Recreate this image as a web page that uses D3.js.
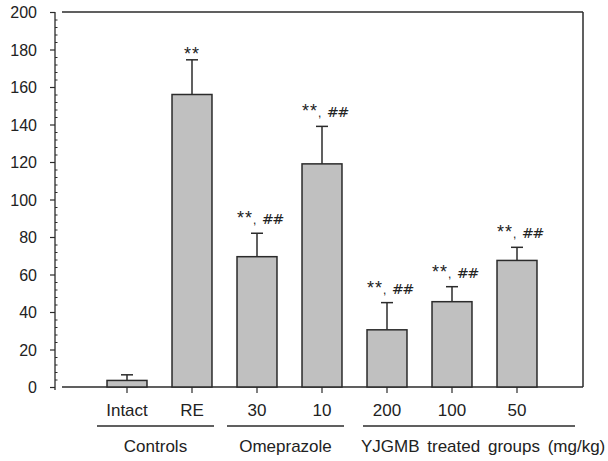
<!DOCTYPE html>
<html>
<head>
<meta charset="utf-8">
<script src="https://cdn.jsdelivr.net/npm/d3@7"></script>
<style>
  html, body { margin: 0; padding: 0; background: #fff; }
  svg { display: block; font-family: "Liberation Sans", Arial, sans-serif; }
</style>
</head>
<body>
<svg id="chart" width="608" height="461"></svg>
<script>
// Treatment groups, means and standard deviations
const categories = ["Intact", "RE", "30", "10", "200", "100", "50"];
const means      = [3.5, 156, 69.5, 119, 30.5, 45.5, 67.5];
const errors     = [3, 18.5, 12.5, 20, 14.5, 8, 7];
const marks      = ["", "**", "**, ##", "**, ##", "**, ##", "**, ##", "**, ##"];
const yTicks     = [0, 20, 40, 60, 80, 100, 120, 140, 160, 180, 200];
const groups = [
  { name: "Controls",   members: ["Intact", "RE"] },
  { name: "Omeprazole", members: ["30", "10"] },
  { name: "YJGMB treated groups (mg/kg)", members: ["200", "100", "50"] }
];

const rows = categories.map((c, i) => ({ cat: c, mean: means[i], err: errors[i], mark: marks[i] }));

const svg = d3.select("#chart");
const ink = "#2b2b2b";

const frame = { left: 62, right: 583, top: 12, bottom: 387 };
const axisX = 55;

const y = d3.scaleLinear().domain([0, 200]).range([frame.bottom, frame.top]);
const x = d3.scaleBand()
  .domain(categories)
  .range([94.5, 549.5])
  .paddingInner(0.385)
  .paddingOuter(0.1925);
const cx = c => x(c) + x.bandwidth() / 2;

// Frame: top and right borders
svg.append("line")
  .attr("x1", frame.left).attr("x2", frame.right)
  .attr("y1", frame.top).attr("y2", frame.top)
  .attr("stroke", ink).attr("stroke-width", 1.5);
svg.append("line")
  .attr("x1", frame.right).attr("x2", frame.right)
  .attr("y1", frame.top).attr("y2", frame.bottom)
  .attr("stroke", ink).attr("stroke-width", 1.5);

// Left axis: major ticks outward with labels, minor ticks inward
const yAxis = svg.append("g").attr("transform", `translate(${axisX},0)`)
  .call(d3.axisLeft(y).tickValues(yTicks).tickSize(5).tickPadding(13));
yAxis.select(".domain").attr("stroke", ink).attr("stroke-width", 1.3)
  .attr("d", `M0,${frame.top}V${frame.bottom + 3}`);
yAxis.selectAll(".tick line").attr("stroke", ink).attr("stroke-width", 1.2);
yAxis.selectAll(".tick text")
  .attr("fill", "#222").style("font-size", "16px").attr("dy", "0.36em");

const minor = d3.range(0, 201, 4).filter(v => v % 20 !== 0);
const yMinor = svg.append("g").attr("transform", `translate(${axisX},0)`)
  .call(d3.axisLeft(y).tickValues(minor).tickSize(-2.5).tickFormat(""));
yMinor.select(".domain").remove();
yMinor.selectAll(".tick line").attr("stroke", ink).attr("stroke-width", 1);

// Bottom axis with category ticks
const xAxis = svg.append("g").attr("transform", `translate(0,${frame.bottom})`)
  .call(d3.axisBottom(x).tickSize(6).tickPadding(7));
xAxis.select(".domain").attr("stroke", ink).attr("stroke-width", 1.5)
  .attr("d", `M${frame.left},0H${frame.right}`);
xAxis.selectAll(".tick line").attr("stroke", ink).attr("stroke-width", 1.2);
xAxis.selectAll(".tick text")
  .attr("fill", "#222").style("font-size", "17px").attr("dy", "0.95em");

// Error bars (upper whisker only), drawn behind the bars
const eb = svg.append("g").selectAll("g").data(rows).join("g");
eb.append("line")
  .attr("x1", d => cx(d.cat)).attr("x2", d => cx(d.cat))
  .attr("y1", d => y(d.mean)).attr("y2", d => y(d.mean + d.err))
  .attr("stroke", ink).attr("stroke-width", 1.5);
eb.append("line")
  .attr("x1", d => cx(d.cat) - 6).attr("x2", d => cx(d.cat) + 6)
  .attr("y1", d => y(d.mean + d.err)).attr("y2", d => y(d.mean + d.err))
  .attr("stroke", ink).attr("stroke-width", 1.5);

// Bars
svg.append("g").selectAll("rect").data(rows).join("rect")
  .attr("x", d => x(d.cat))
  .attr("y", d => y(d.mean))
  .attr("width", x.bandwidth())
  .attr("height", d => y(0) - y(d.mean))
  .attr("fill", "#c0c0c0")
  .attr("stroke", ink).attr("stroke-width", 1.5);

// Significance marks above the whiskers: larger stars, smaller comma, upright hashes
const sig = svg.append("g").selectAll("text").data(rows.filter(d => d.mark)).join("text")
  .attr("x", d => cx(d.cat) + (d.mark === "**" ? 0 : 3))
  .attr("y", d => y(d.mean + d.err) - (d.mark === "**" ? 0 : 9))
  .attr("text-anchor", "middle")
  .attr("fill", "#222");
sig.each(function (d) {
  const t = d3.select(this);
  const parts = d.mark.split(",");
  t.append("tspan").style("font-size", "18px").style("letter-spacing", "1px").text(parts[0]);
  if (parts.length > 1) {
    t.append("tspan").style("font-size", "12px").style("letter-spacing", "1px").text(", ");
    t.append("tspan").style("font-family", "'DejaVu Sans', sans-serif")
      .style("font-size", "14.5px").style("letter-spacing", "-1.5px")
      .text(parts[1].trim());
  }
});

// Group brackets and names under the axis
const gy = 426;
groups.forEach((g, i) => {
  const first = g.members[0], last = g.members[g.members.length - 1];
  const isLast = i === groups.length - 1;
  const x1 = cx(first) - (isLast ? 24 : 30);
  const x2 = isLast ? frame.right - 8 : cx(last) + 22;
  svg.append("line")
    .attr("x1", x1).attr("x2", x2).attr("y1", gy).attr("y2", gy)
    .attr("stroke", ink).attr("stroke-width", 1.5);
  svg.append("text")
    .attr("x", isLast ? x1 - 2 : (x1 + x2) / 2)
    .attr("y", 452)
    .attr("text-anchor", isLast ? "start" : "middle")
    .style("font-size", "17px")
    .style("word-spacing", isLast ? "3px" : "0px")
    .attr("fill", "#222")
    .text(g.name);
});
</script>
</body>
</html>
